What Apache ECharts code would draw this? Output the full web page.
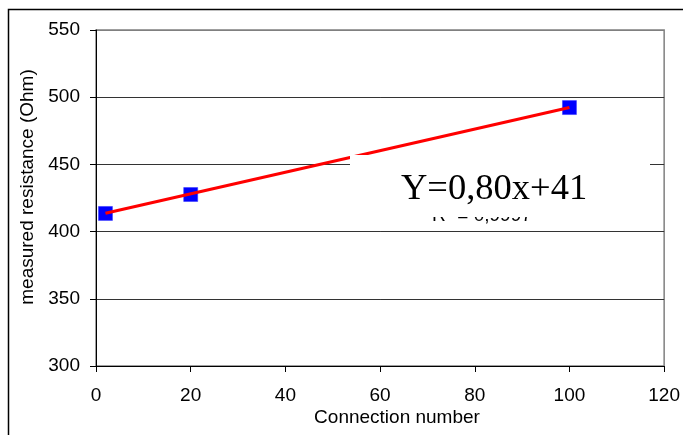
<!DOCTYPE html>
<html>
<head>
<meta charset="utf-8">
<script src="https://cdn.jsdelivr.net/npm/echarts@6/dist/echarts.min.js"></script>
<style>
html,body{margin:0;padding:0;background:#fff;}
#chart{width:683px;height:435px;}
</style>
</head>
<body>
<div id="chart"></div>
<script>
// Data
var connectionNumbers = [2, 20, 100];
var measuredResistance = [413.5, 427.6, 492.3];
var trendX = [2, 100];
var trendY = [413.6, 492.4];
var xTicks = [0, 20, 40, 60, 80, 100, 120];
var yTicks = [300, 350, 400, 450, 500, 550];
var xTitle = 'Connection number';
var yTitle = 'measured resistance (Ohm)';
var equationText = 'Y=0,80x+41';
var r2Text = 'R\u00B2 = 0,9997';

var chart = echarts.init(document.getElementById('chart'), null, {renderer: 'canvas'});
var FONT = '"Liberation Sans", Arial, sans-serif';

var option = {
  backgroundColor: '#ffffff',
  animation: false,
  grid: {
    left: 96, top: 30, right: 17, bottom: 69,
    show: true, borderColor: '#808080', borderWidth: 1.5, backgroundColor: 'transparent'
  },
  xAxis: {
    type: 'value',
    min: xTicks[0], max: xTicks[xTicks.length - 1], interval: 20,
    axisLine: {show: true, onZero: false, lineStyle: {color: '#000', width: 1}},
    axisTick: {show: true, inside: false, length: 6, lineStyle: {color: '#000'}},
    splitLine: {show: false},
    axisLabel: {color: '#000', fontFamily: FONT, fontSize: 19, margin: 20}
  },
  yAxis: {
    type: 'value',
    min: yTicks[0], max: yTicks[yTicks.length - 1], interval: 50,
    axisLine: {show: true, onZero: false, lineStyle: {color: '#000', width: 1}},
    axisTick: {show: true, inside: false, length: 6, lineStyle: {color: '#000'}},
    splitLine: {show: true, lineStyle: {color: ['#000', '#333', '#333', '#333', '#333', '#808080'], width: 1}},
    axisLabel: {color: '#000', fontFamily: FONT, fontSize: 19, margin: 16}
  },
  series: [
    {
      type: 'line',
      data: trendX.map(function (x, i) { return [x, trendY[i]]; }),
      showSymbol: false,
      symbol: 'none',
      lineStyle: {color: '#ff0000', width: 3},
      z: 3
    },
    {
      type: 'scatter',
      data: connectionNumbers.map(function (x, i) { return [x, measuredResistance[i]]; }),
      symbol: 'rect',
      symbolSize: 14,
      itemStyle: {color: '#0000ff', opacity: 1, borderColor: '#3333ff', borderWidth: 0.5},
      z: 2
    }
  ],
  graphic: [
    {
      type: 'rect', z: 0, silent: true,
      shape: {x: 8.5, y: 9.5, width: 720, height: 500},
      style: {fill: 'none', stroke: '#000', lineWidth: 1.5}
    },
    {
      type: 'text', z: 100, silent: true,
      x: 432, y: 225,
      style: {text: r2Text, font: '19px ' + FONT, fill: '#000', textAlign: 'left', verticalAlign: 'bottom'}
    },
    {
      type: 'rect', z: 101, silent: true,
      shape: {x: 350, y: 155, width: 300, height: 62},
      style: {fill: '#ffffff'}
    },
    {
      type: 'text', z: 102, silent: true,
      x: 401, y: 208,
      style: {text: equationText, font: '36.5px "Liberation Serif", "Times New Roman", serif', fill: '#000', textAlign: 'left', verticalAlign: 'bottom'}
    },
    {
      type: 'text', z: 100, silent: true,
      x: 397, y: 418,
      style: {text: xTitle, font: '19px ' + FONT, fill: '#000', align: 'center', verticalAlign: 'middle'}
    },
    {
      type: 'text', z: 100, silent: true,
      x: 28, y: 187, rotation: Math.PI / 2,
      style: {text: yTitle, font: '19px ' + FONT, fill: '#000', align: 'center', verticalAlign: 'middle'}
    }
  ]
};
chart.setOption(option);
</script>
</body>
</html>
